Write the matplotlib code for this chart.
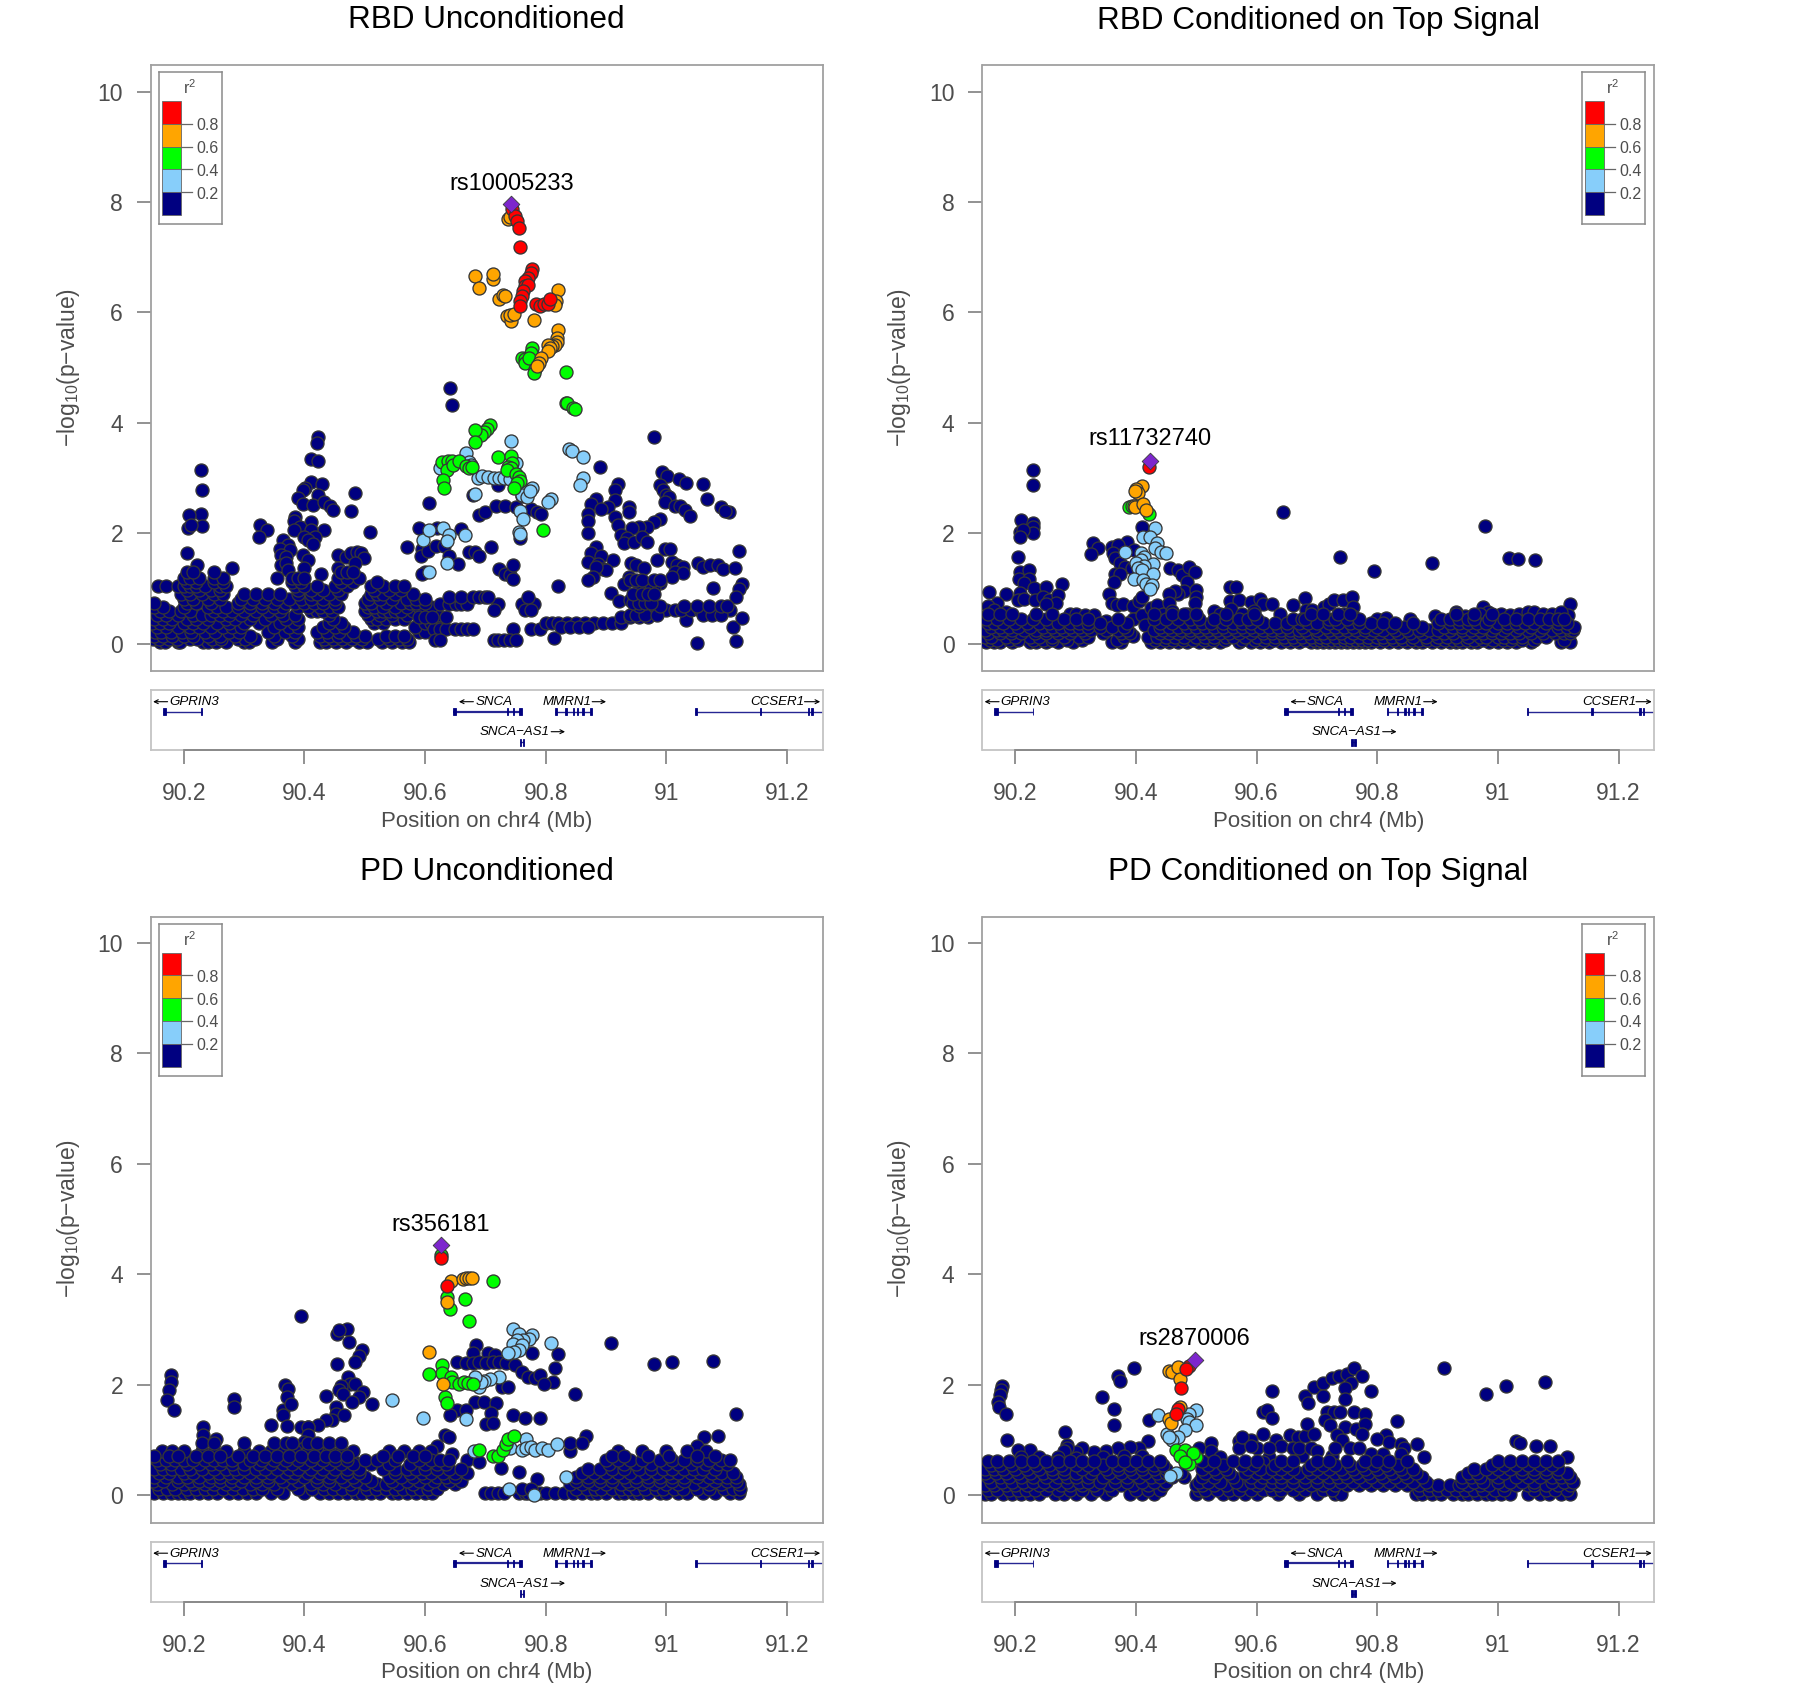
import matplotlib
matplotlib.use("Agg")
import matplotlib.pyplot as plt
from matplotlib.patches import Rectangle

plt.rcParams['font.family'] = ['Liberation Sans', 'DejaVu Sans']
plt.rcParams['mathtext.default'] = 'regular'
plt.rcParams['mathtext.fontset'] = 'custom'
plt.rcParams['mathtext.rm'] = 'Liberation Sans'

W, H = 1800, 1684
TITLES = ["RBD Unconditioned", "RBD Conditioned on Top Signal", "PD Unconditioned", "PD Conditioned on Top Signal"]
XTICKS = [90.2, 90.4, 90.6, 90.8, 91.0, 91.2]
XTICKLABELS = ["90.2", "90.4", "90.6", "90.8", "91", "91.2"]
YTICKS = [0, 2, 4, 6, 8, 10]
LEGEND_TICKS = [0.2, 0.4, 0.6, 0.8]
COLORS = {"navy": "#000080", "sky": "#87CEFA", "green": "#00FF00", "orange": "#FFA500", "red": "#FF0000", "lead": "#7D26CD"}

# ---- RBD unconditioned
u1_lead = (90.743, 7.96); u1_name = "rs10005233"; u1_label_y = 8.33
u1_red = [(90.744,7.87),(90.749,7.75),(90.752,7.66),(90.755,7.53),(90.757,7.18),(90.777,6.78),(90.775,6.72),(90.771,6.63),(90.766,6.57),(90.765,6.48),(90.771,6.49),(90.762,6.39),(90.76,6.3),(90.758,6.2),(90.757,6.11),(90.783,6.16),(90.79,6.11),(90.797,6.16),(90.804,6.15),(90.807,6.25)]
u1_orange = [(90.738,7.69),(90.741,7.72),(90.682,6.66),(90.69,6.45),(90.712,6.6),(90.713,6.69),(90.722,6.24),(90.729,6.31),(90.733,6.3),(90.735,5.93),(90.743,5.85),(90.74,5.96),(90.748,5.98),(90.781,5.86),(90.82,6.4),(90.817,6.21),(90.815,6.13),(90.82,5.69),(90.818,5.54),(90.818,5.46),(90.815,5.42),(90.811,5.39),(90.804,5.42),(90.807,5.36),(90.803,5.3),(90.792,5.18),(90.788,5.09),(90.786,5.04)]
u1_green = [(90.777,5.35),(90.775,5.26),(90.76,5.18),(90.765,5.15),(90.765,5.09),(90.773,5.18),(90.782,4.98),(90.78,4.9),(90.833,4.92),(90.834,4.37),(90.836,4.36),(90.845,4.27),(90.849,4.25),(90.707,3.96),(90.703,3.89),(90.697,3.83),(90.693,3.79),(90.682,3.87),(90.683,3.66),(90.628,3.3),(90.638,3.32),(90.645,3.31),(90.636,3.15),(90.646,3.24),(90.656,3.32),(90.667,3.23),(90.672,3.18),(90.678,3.21),(90.629,2.97),(90.632,2.83),(90.72,3.39),(90.743,3.4),(90.744,3.28),(90.738,3.21),(90.743,3.18),(90.735,3.14),(90.751,3.08),(90.756,3.03),(90.758,2.95),(90.752,2.91),(90.748,2.83),(90.796,2.07)]
u1_sky = [(90.743,3.67),(90.668,3.45),(90.673,3.3),(90.625,3.19),(90.676,3.24),(90.838,3.53),(90.843,3.49),(90.862,3.39),(90.862,3.0),(90.856,2.88),(90.809,2.63),(90.804,2.57),(90.687,3.0),(90.695,3.04),(90.705,3.02),(90.714,3.01),(90.722,3.01),(90.73,3.01),(90.74,2.98),(90.75,3.27),(90.765,2.79),(90.76,2.7),(90.769,2.66),(90.777,2.83),(90.774,2.76),(90.682,2.71),(90.757,2.4),(90.762,2.26),(90.756,2.03),(90.757,1.99),(90.597,1.88),(90.607,2.06),(90.629,2.09),(90.64,1.98),(90.636,1.87),(90.666,1.98),(90.636,1.47),(90.607,1.31)]
u1_navy = [(90.642,4.63),(90.645,4.33),(90.979,3.74),(90.422,3.75),(90.421,3.63),(90.41,3.34),(90.422,3.31),(90.41,2.94),(90.401,2.83),(90.397,2.79),(90.429,2.89),(90.422,2.69),(90.389,2.65),(90.397,2.54),(90.414,2.51),(90.433,2.57),(90.443,2.5),(90.448,2.42),(90.483,2.74),(90.477,2.41),(90.384,2.3),(90.383,2.23),(90.411,2.21),(90.393,2.12),(90.382,2.06),(90.433,2.06),(90.41,2.06),(90.4,1.94),(90.418,1.94),(90.405,1.88),(90.414,1.81),(90.364,1.88),(90.373,1.79),(90.359,1.72),(90.376,1.7),(90.361,1.61),(90.397,1.61),(90.37,1.58),(90.361,1.43),(90.405,1.52),(90.37,1.46),(90.399,1.37),(90.372,1.34),(90.427,1.27),(90.327,2.15),(90.338,2.06),(90.325,1.94),(90.509,2.03),(90.456,1.61),(90.469,1.58),(90.477,1.65),(90.487,1.67),(90.494,1.64),(90.498,1.55),(90.484,1.46),(90.456,1.37),(90.229,3.15),(90.23,2.79),(90.229,2.35),(90.23,2.13),(90.209,2.33),(90.207,2.09),(90.211,2.15),(90.205,1.64),(90.222,1.43),(90.279,1.37),
(90.89,3.2),(90.992,3.12),(91.001,3.04),(91.021,2.98),(91.033,2.92),(91.06,2.9),(91.067,2.62),(91.091,2.47),(91.103,2.39),(91.098,2.4),(90.919,2.9),(90.915,2.78),(90.883,2.63),(90.875,2.54),(90.87,2.36),(90.87,2.23),(90.915,2.6),(90.904,2.48),(90.891,2.45),(90.938,2.48),(90.938,2.39),(90.915,2.3),(90.919,2.15),(90.87,2.0),(90.989,2.88),(90.995,2.79),(91.0,2.69),(91.004,2.66),(90.997,2.57),(91.014,2.5),(91.022,2.5),(91.031,2.42),(91.039,2.32),(90.989,2.27),(90.98,2.21),(90.968,2.12),(90.955,2.12),(90.943,2.09),(90.925,1.97),(90.934,1.91),(90.93,1.82),(90.947,1.85),(90.959,1.94),(90.968,1.85),(90.997,1.72),(91.006,1.72),(90.984,1.52),(91.01,1.49),(91.018,1.43),(91.027,1.4),(91.014,1.3),(91.028,1.29),(91.01,1.21),(91.052,1.46),(91.06,1.4),(91.073,1.43),(91.086,1.43),(91.094,1.35),(91.113,1.37),(91.12,1.69),(91.125,1.09),(91.12,1.0),(91.116,0.85),(91.077,1.02),(90.989,1.11),(90.98,1.03),(90.968,0.97),(90.955,1.0),(90.942,1.46),(90.95,1.43),(90.963,1.37),(90.938,1.21),(90.93,1.09),(90.908,0.92),(90.921,0.77),(90.94,0.79),
(90.883,1.76),(90.875,1.64),(90.87,1.49),(90.891,1.6),(90.887,1.45),(90.895,1.36),(90.912,1.52),(90.9,1.33),(90.883,1.39),(90.879,1.21),(90.87,1.15),(90.82,1.05),(90.814,0.1),(91.05,0.02),(91.033,0.43),(91.11,0.3),(91.115,0.06),(91.125,0.47),
(90.59,2.1),(90.57,1.75),(90.595,1.72),(90.593,1.6),(90.605,1.68),(90.62,2.1),(90.618,1.77),(90.632,1.78),(90.66,2.08),(90.64,1.6),(90.655,1.45),(90.672,1.67),(90.682,1.67),(90.69,1.6),(90.6,1.3),(90.595,1.27),(90.606,2.55),(90.71,1.75),(90.722,1.35),(90.732,1.27),(90.74,1.25),(90.745,1.18),(90.745,1.43),(90.69,2.33),(90.7,2.38),(90.718,2.5),(90.733,2.5),(90.75,2.47),(90.76,2.67),(90.775,2.45),(90.785,2.38),(90.792,2.35),(90.72,2.88),(90.757,1.92),(90.68,2.7)]
u1_band = [(0.03,[90.16,90.168,90.19,90.194,90.232,90.24,90.253,90.27,90.3,90.308,90.346,90.384,90.425,90.435,90.452,90.469,90.49,90.503,90.528,90.545,90.562,90.574]),
(0.09,[90.148,90.158,90.175,90.188,90.21,90.222,90.247,90.262,90.29,90.302,90.318,90.355,90.39,90.432,90.448,90.462,90.478,90.495,90.522,90.54,90.557,90.57]),
(0.15,[90.15,90.165,90.18,90.2,90.215,90.24,90.26,90.285,90.31,90.35,90.38,90.425,90.44,90.455,90.47,90.485,90.5,90.535,90.55,90.565]),
(0.22,[90.152,90.162,90.178,90.197,90.212,90.235,90.252,90.275,90.292,90.34,90.368,90.385,90.42,90.438,90.458,90.48,90.59,90.6]),
(0.3,[90.155,90.17,90.19,90.21,90.225,90.245,90.265,90.28,90.295,90.35,90.375,90.39,90.43,90.45,90.465,90.583]),
(0.38,[90.147,90.16,90.175,90.2,90.215,90.232,90.255,90.275,90.3,90.325,90.36,90.382,90.44,90.46,90.515,90.53,90.6,90.61,90.62]),
(0.45,[90.15,90.165,90.18,90.205,90.22,90.24,90.27,90.285,90.31,90.335,90.37,90.39,90.448,90.51,90.52,90.535,90.55,90.565]),
(0.53,[90.155,90.17,90.19,90.215,90.23,90.245,90.26,90.275,90.295,90.315,90.345,90.365,90.385,90.44,90.505,90.525,90.545,90.57,90.605,90.62]),
(0.6,[90.16,90.175,90.195,90.21,90.25,90.265,90.28,90.3,90.32,90.34,90.36,90.41,90.42,90.43,90.445,90.5,90.52,90.53,90.54,90.55,90.56,90.58,90.595]),
(0.67,[90.15,90.165,90.2,90.24,90.255,90.27,90.29,90.31,90.33,90.35,90.365,90.39,90.405,90.425,90.44,90.455,90.505,90.515,90.53,90.55,90.57,90.59,90.61]),
(0.75,[90.15,90.205,90.22,90.245,90.29,90.31,90.33,90.35,90.37,90.385,90.4,90.415,90.43,90.45,90.5,90.51,90.535,90.56,90.575,90.585,90.6]),
(0.82,[90.2,90.215,90.24,90.26,90.295,90.315,90.335,90.355,90.375,90.395,90.41,90.43,90.45,90.505,90.525,90.545,90.57,90.585,90.6]),
(0.9,[90.195,90.21,90.23,90.25,90.265,90.3,90.32,90.34,90.36,90.39,90.41,90.42,90.44,90.46,90.51,90.52,90.53,90.55,90.58]),
(0.97,[90.205,90.225,90.245,90.26,90.39,90.41,90.43,90.455,90.515,90.54,90.56]),
(1.05,[90.157,90.17,90.19,90.2,90.21,90.22,90.235,90.26,90.27,90.385,90.4,90.42,90.45,90.47,90.51,90.53,90.55,90.565]),
(1.12,[90.205,90.22,90.25,90.265,90.38,90.395,90.46,90.48,90.52]),
(1.2,[90.2,90.21,90.225,90.25,90.265,90.355,90.38,90.39,90.4,90.455,90.47,90.49]),
(1.3,[90.205,90.215,90.25,90.46,90.47,90.48]),
(0.27,[90.615,90.625,90.635,90.65,90.66,90.67,90.68,90.745,90.775,90.79]),
(0.08,[90.617,90.625,90.714,90.72,90.73,90.74,90.75]),
(0.38,[90.8,90.81,90.82,90.835,90.85,90.865,90.88,90.895,90.91,90.925]),
(0.3,[90.825,90.84,90.855,90.87]),
(0.48,[90.59,90.6,90.612,90.635,90.925,90.94,90.955,90.97]),
(0.72,[90.625,90.64,90.652,90.66,90.67,90.72,90.76,90.78]),
(0.85,[90.64,90.66,90.68,90.69,90.7,90.705,90.77]),
(0.62,[90.96,90.97,90.985,91.0,91.015,91.025,91.04,91.055,91.065,91.075,91.085,91.095,91.105,90.715,90.765,90.775]),
(0.52,[90.94,90.95,90.965,90.985,91.06,91.075,91.09]),
(0.68,[90.955,90.99,91.03,91.05,91.07,91.09,91.1]),
(0.75,[90.945,90.955,90.965,90.975]),(0.9,[90.945,90.96,90.97,90.98]),(1.15,[90.94,90.95,90.96,90.98,90.99])]

# ---- RBD conditioned
c1_lead = (90.423, 3.32); c1_name = "rs11732740"; c1_label_y = 3.71
c1_red = [(90.422,3.21)]
c1_orange = [(90.41,2.86),(90.4,2.8),(90.403,2.74),(90.399,2.77),(90.397,2.5),(90.399,2.47),(90.412,2.53),(90.416,2.42)]
c1_green = [(90.389,2.48),(90.393,2.5),(90.422,2.35)]
c1_sky = [(90.431,2.1),(90.412,1.93),(90.423,1.94),(90.435,1.82),(90.432,1.73),(90.442,1.67),(90.45,1.65),(90.381,1.66),(90.409,1.65),(90.413,1.58),(90.408,1.52),(90.4,1.46),(90.428,1.44),(90.413,1.41),(90.404,1.37),(90.41,1.34),(90.429,1.26),(90.396,1.18),(90.412,1.15),(90.416,1.08),(90.427,1.06),(90.423,0.99)]
c1_navy = [(90.229,3.14),(90.23,2.88),(90.21,2.25),(90.229,2.19),(90.229,2.11),(90.23,2.0),(90.208,2.03),(90.212,2.06),(90.208,1.94),(90.205,1.58),(90.208,1.3),(90.223,1.33),(90.206,1.18),(90.223,1.18),(90.214,1.1),(90.278,1.08),(90.231,1.01),(90.25,1.03),(90.157,0.94),(90.185,0.9),(90.207,0.92),(90.205,0.8),(90.215,0.82),(90.232,0.8),(90.245,0.85),(90.255,0.8),(90.27,0.88),(90.268,0.75),(90.25,0.72),(90.17,0.75),(90.155,0.68),(90.165,0.62),(90.185,0.58),
(90.328,1.82),(90.337,1.73),(90.326,1.62),(90.385,1.85),(90.36,1.76),(90.37,1.79),(90.397,1.7),(90.362,1.64),(90.366,1.55),(90.374,1.46),(90.381,1.4),(90.365,1.26),(90.374,1.26),(90.364,1.12),(90.41,2.12),(90.356,0.91),(90.394,1.37),(90.457,1.37),(90.469,1.34),(90.476,1.24),(90.488,1.4),(90.497,1.31),(90.484,1.12),(90.48,0.95),(90.47,0.91),(90.465,0.95),(90.454,0.91),(90.499,0.98),(90.499,0.85),(90.498,0.74),(90.644,2.39),(90.738,1.58),(90.795,1.32),(90.89,1.47),(90.979,2.13),(91.019,1.56),(91.034,1.54),(91.061,1.52),(90.556,1.03),(90.566,1.03),(90.556,0.77),(90.57,0.79),(90.59,0.76),(90.605,0.82),(90.61,0.73),(90.625,0.73),(90.661,0.71),(90.68,0.84),(90.682,0.61),(90.691,0.61),(90.712,0.66),(90.72,0.73),(90.728,0.79),(90.743,0.79),(90.758,0.85),(90.76,0.67),(90.975,0.67),(90.984,0.58),(91.119,0.73),(91.116,0.52),
(90.36,0.75),(90.368,0.7),(90.378,0.72),(90.395,0.68),(90.405,0.78),(90.41,0.85),(90.395,0.45),(90.41,0.52),(90.415,0.35),(90.425,0.65),(90.44,0.65),(90.435,0.7),(90.445,0.55),(90.455,0.75),(90.46,0.6),(90.485,0.55),(90.53,0.6),(90.54,0.55),(90.558,0.63),(90.576,0.55),(90.595,0.6),(90.638,0.55),(90.665,0.4),(90.69,0.5),(90.7,0.45),(90.712,0.45),(90.745,0.55),(90.76,0.5),(90.765,0.45),(90.8,0.45),(90.815,0.47),(90.855,0.45),(90.895,0.5),(90.93,0.58),(90.945,0.5),(90.97,0.55),(91.005,0.55),(91.02,0.52),(91.035,0.55),(91.05,0.57),(91.06,0.57),(91.075,0.55),(91.09,0.55),(91.105,0.58),(90.29,0.55),(90.3,0.55),(90.315,0.52),(90.33,0.52),(90.35,0.42),(90.38,0.35),(90.395,0.15)]
c1_band = [(0.03,[90.152,90.165,90.175,90.195,90.225,90.235,90.25,90.27,90.295,90.36,90.375,90.425,90.44,90.455,90.47,90.485,90.505,90.52,90.54,90.57,90.59,90.605,90.62,90.64,90.655,90.67,90.69,90.7,90.71,90.72,90.73,90.74,90.75,90.76,90.77,90.78,90.79,90.805,90.82,90.835,90.85,90.865,90.875,90.89,90.905,90.92,90.93,90.94,90.955,90.965,90.985,91.0,91.015,91.03,91.055,91.105,91.12]),
(0.08,[90.158,90.17,90.19,90.205,90.23,90.245,90.26,90.285,90.31,90.368,90.432,90.448,90.462,90.478,90.495,90.512,90.528,90.548,90.575,90.597,90.612,90.628,90.648,90.663,90.68,90.695,90.705,90.715,90.725,90.735,90.745,90.755,90.765,90.775,90.785,90.797,90.812,90.828,90.842,90.857,90.87,90.882,90.897,90.912,90.925,90.935,90.948,90.96,90.975,90.992,91.008,91.022,91.04,91.06,91.11]),
(0.13,[90.15,90.16,90.185,90.2,90.225,90.24,90.26,90.28,90.305,90.32,90.38,90.42,90.435,90.45,90.465,90.48,90.5,90.515,90.53,90.55,90.56,90.58,90.6,90.615,90.63,90.645,90.66,90.675,90.69,90.705,90.715,90.73,90.745,90.755,90.77,90.785,90.8,90.81,90.825,90.84,90.86,90.88,90.9,90.915,90.93,90.95,90.97,90.98,91.0,91.01,91.025,91.04,91.065,91.08]),
(0.19,[90.155,90.175,90.192,90.21,90.232,90.25,90.27,90.29,90.315,90.345,90.375,90.39,90.44,90.455,90.47,90.49,90.51,90.525,90.54,90.555,90.57,90.59,90.61,90.625,90.64,90.655,90.67,90.685,90.7,90.71,90.725,90.74,90.76,90.775,90.79,90.805,90.82,90.835,90.855,90.875,90.895,90.91,90.925,90.945,90.96,90.975,90.99,91.005,91.02,91.035,91.055,91.075,91.095,91.11,91.12]),
(0.25,[90.15,90.17,90.18,90.195,90.215,90.235,90.25,90.265,90.28,90.295,90.31,90.325,90.35,90.37,90.385,90.43,90.445,90.46,90.475,90.49,90.505,90.52,90.535,90.55,90.565,90.58,90.595,90.61,90.625,90.64,90.655,90.67,90.68,90.7,90.72,90.735,90.75,90.765,90.78,90.795,90.81,90.83,90.85,90.87,90.885,90.9,90.92,90.94,90.955,90.97,90.99,91.01,91.03,91.05,91.07,91.09,91.105,91.12,91.125]),
(0.31,[90.16,90.175,90.19,90.205,90.225,90.245,90.26,90.275,90.29,90.305,90.32,90.34,90.36,90.38,90.44,90.455,90.47,90.485,90.5,90.515,90.53,90.545,90.56,90.575,90.59,90.605,90.62,90.635,90.65,90.675,90.695,90.715,90.73,90.745,90.76,90.78,90.8,90.825,90.845,90.875,90.91,90.925,90.94,90.96,90.975,90.995,91.015,91.035,91.055,91.075,91.1,91.115,91.127]),
(0.37,[90.155,90.165,90.18,90.2,90.22,90.24,90.255,90.27,90.29,90.305,90.32,90.34,90.385,90.44,90.46,90.48,90.495,90.51,90.525,90.545,90.56,90.575,90.59,90.61,90.63,90.65,90.67,90.685,90.7,90.72,90.735,90.755,90.77,90.79,90.81,90.83,90.86,90.9,90.92,90.935,90.95,90.965,90.98,91.0,91.015,91.03,91.045,91.06,91.08,91.1,91.115]),
(0.46,[90.152,90.17,90.19,90.21,90.23,90.25,90.28,90.3,90.32,90.37,90.43,90.45,90.47,90.49,90.505,90.53,90.55,90.57,90.585,90.6,90.66,90.675,90.68,90.72,90.73,90.75,90.77,90.905,90.92,90.935,90.95,90.96,90.985,91.01,91.03,91.05,91.07,91.085,91.1,91.11]),
(0.55,[90.155,90.175,90.195,90.235,90.26,90.43,90.46,90.48,90.5,90.55,90.595,90.69,90.71,90.735,90.755,90.93,90.96,90.99])]

# ---- PD unconditioned
u2_lead = (90.626, 4.53); u2_name = "rs356181"; u2_label_y = 4.90
u2_red = [(90.626,4.29),(90.636,3.8)]
u2_orange = [(90.643,3.88),(90.662,3.92),(90.667,3.93),(90.673,3.93),(90.677,3.93),(90.636,3.5),(90.607,2.59),(90.63,2.02)]
u2_green = [(90.626,4.35),(90.712,3.89),(90.637,3.6),(90.666,3.55),(90.641,3.37),(90.673,3.16),(90.628,2.36),(90.628,2.22),(90.606,2.2),(90.643,2.15),(90.644,2.05),(90.656,2.01),(90.665,2.05),(90.671,2.04),(90.679,2.02),(90.633,1.79),(90.636,1.67),(90.69,0.82),(90.713,0.72),(90.721,0.72),(90.729,0.82),(90.734,0.94),(90.738,1.03),(90.747,1.07)]
u2_sky = [(90.545,1.72),(90.596,1.41),(90.668,1.38),(90.745,3.02),(90.756,2.93),(90.778,2.9),(90.772,2.84),(90.763,2.81),(90.752,2.81),(90.745,2.75),(90.76,2.72),(90.755,2.63),(90.747,2.6),(90.738,2.57),(90.808,2.76),(90.723,2.14),(90.708,2.11),(90.697,2.08),(90.69,1.96),(90.693,2.05),(90.682,2.15),(90.681,0.8),(90.741,0.85),(90.767,1.03),(90.76,0.82),(90.767,0.85),(90.775,0.88),(90.782,0.82),(90.793,0.85),(90.804,0.82),(90.819,0.94),(90.834,0.34),(90.739,0.11),(90.781,0.01)]
u2_navy = [(90.395,3.25),(90.471,3.02),(90.454,2.93),(90.457,2.99),(90.474,2.77),(90.496,2.63),(90.49,2.52),(90.483,2.42),(90.454,2.38),(90.472,2.14),(90.475,2.02),(90.46,1.99),(90.483,2.02),(90.457,1.9),(90.497,1.87),(90.464,1.84),(90.49,1.78),(90.478,1.69),(90.436,1.8),(90.512,1.65),(90.453,1.6),(90.453,1.48),(90.466,1.46),(90.446,1.36),(90.435,1.36),(90.423,1.27),(90.405,1.24),(90.395,1.24),(90.344,1.27),(90.364,1.54),(90.364,1.45),(90.368,2.0),(90.372,1.92),(90.283,1.75),(90.283,1.6),(90.178,2.18),(90.178,2.06),(90.176,1.91),(90.172,1.73),(90.183,1.55),(90.231,1.24),(90.231,1.09),(90.253,1.03),(90.371,1.79),(90.377,1.65),(90.406,1.23),(90.371,1.26),(90.406,1.09),(90.399,0.97),(90.399,0.85),(90.425,0.77),(90.46,0.65),(90.482,0.6),(90.538,0.49),(90.568,0.4),(90.596,0.28),
(90.684,2.72),(90.679,2.57),(90.704,2.57),(90.716,2.54),(90.653,2.42),(90.668,2.4),(90.679,2.39),(90.69,2.42),(90.701,2.39),(90.712,2.42),(90.723,2.42),(90.734,2.39),(90.749,2.36),(90.778,2.57),(90.82,2.56),(90.76,2.24),(90.771,2.15),(90.782,2.12),(90.79,2.18),(90.815,2.3),(90.812,2.05),(90.797,2.02),(90.727,1.96),(90.738,1.96),(90.908,2.76),(90.98,2.38),(91.01,2.42),(91.078,2.44),(91.116,1.48),(90.849,1.84),(90.682,1.69),(90.697,1.69),(90.717,1.67),(90.709,1.5),(90.701,1.3),(90.712,1.31),(90.746,1.45),(90.765,1.4),(90.79,1.41),(90.653,1.54),(90.642,1.45),(90.668,1.54),(90.866,1.07),(91.062,1.06),(91.086,1.07),(91.05,0.9),
(90.633,1.1),(90.64,1.05),(90.62,0.9),(90.61,0.8),(90.645,0.75),(90.67,0.64),(90.69,0.6),(90.725,0.5),(90.755,0.42),(90.785,0.3)]
u2_band = [(0.05,[90.15,90.165,90.178,90.19,90.2,90.21,90.225,90.24,90.255,90.275,90.29,90.305,90.32,90.345,90.365,90.4,90.425,90.44,90.455,90.47,90.485,90.495,90.51,90.525,90.545,90.555,90.57,90.585,90.6,90.612,90.7,90.71,90.72,90.73,90.755,90.765,90.77,90.78,90.79,90.8,90.815,90.83,90.845,90.86,90.875,90.885,90.9,90.92,90.93,90.945,90.955,90.97,90.99,91.0,91.02,91.035,91.06,91.08,91.105,91.12]),
(0.11,[90.158,90.172,90.185,90.205,90.22,90.235,90.248,90.265,90.282,90.298,90.315,90.33,90.355,90.39,90.412,90.432,90.448,90.462,90.478,90.503,90.518,90.535,90.55,90.563,90.578,90.592,90.605,90.62,90.76,90.775,90.85,90.868,90.882,90.892,90.91,90.925,90.938,90.95,90.965,90.982,90.995,91.012,91.028,91.05,91.07,91.095,91.11,91.122]),
(0.2,[90.155,90.18,90.2,90.215,90.235,90.25,90.27,90.285,90.31,90.33,90.35,90.38,90.41,90.43,90.45,90.475,90.5,90.52,90.535,90.555,90.58,90.605,90.63,90.65,90.84,90.86,90.88,90.9,90.925,90.94,90.96,90.98,91.0,91.02,91.045,91.07,91.09,91.12]),
(0.27,[90.148,90.165,90.19,90.21,90.225,90.242,90.26,90.278,90.295,90.32,90.34,90.365,90.39,90.42,90.44,90.465,90.485,90.51,90.545,90.57,90.59,90.615,90.64,90.66,90.85,90.87,90.89,90.91,90.935,90.95,90.97,90.99,91.01,91.03,91.06,91.08,91.1,91.115]),
(0.33,[90.15,90.17,90.19,90.205,90.225,90.245,90.26,90.28,90.3,90.32,90.34,90.36,90.38,90.4,90.42,90.44,90.46,90.48,90.5,90.54,90.56,90.58,90.6,90.62,90.635,90.65,90.85,90.87,90.89,90.91,90.93,90.95,90.97,90.99,91.01,91.03,91.05,91.07,91.085,91.1,91.115]),
(0.41,[90.158,90.175,90.2,90.215,90.24,90.258,90.275,90.29,90.31,90.33,90.345,90.37,90.385,90.405,90.425,90.445,90.47,90.49,90.55,90.575,90.595,90.61,90.63,90.65,90.67,90.86,90.88,90.9,90.92,90.94,90.965,90.985,91.005,91.02,91.04,91.055,91.075,91.09,91.11]),
(0.48,[90.15,90.165,90.18,90.195,90.21,90.23,90.25,90.27,90.285,90.3,90.32,90.335,90.355,90.375,90.39,90.41,90.43,90.45,90.47,90.49,90.53,90.55,90.57,90.585,90.6,90.62,90.64,90.66,90.87,90.89,90.91,90.93,90.955,90.975,90.995,91.01,91.03,91.045,91.06,91.08]),
(0.56,[90.16,90.178,90.205,90.225,90.245,90.26,90.28,90.3,90.325,90.345,90.365,90.38,90.4,90.42,90.44,90.46,90.48,90.51,90.54,90.575,90.6,90.62,90.635,90.905,90.93,90.95,90.975,91.0,91.02,91.04,91.065,91.085,91.1]),
(0.65,[90.155,90.17,90.185,90.2,90.215,90.235,90.25,90.265,90.28,90.31,90.33,90.35,90.37,90.39,90.41,90.43,90.45,90.47,90.5,90.52,90.55,90.59,90.61,90.625,90.64,90.9,90.92,90.94,90.96,90.99,91.01,91.03,91.05,91.07,91.09,91.105]),
(0.8,[90.163,90.18,90.2,90.23,90.25,90.27,90.3,90.325,90.345,90.365,90.385,90.405,90.44,90.46,90.48,90.54,90.565,90.59,90.84,90.92,90.96,91.0,91.035,91.065]),
(0.72,[90.15,90.175,90.19,90.22,90.24,90.26,90.29,90.315,90.335,90.355,90.375,90.395,90.415,90.435,90.45,90.47,90.53,90.555,90.58,90.6,90.91,90.93,90.97,91.005,91.05,91.08]),
(0.95,[90.23,90.25,90.3,90.35,90.37,90.38,90.405,90.42,90.44,90.46,90.84,90.86])]

# ---- PD conditioned
c2_lead = (90.497, 2.46); c2_name = "rs2870006"; c2_label_y = 2.84
c2_red = [(90.488,2.34),(90.483,2.28),(90.474,1.95),(90.47,1.56),(90.466,1.48)]
c2_orange = [(90.455,2.25),(90.46,2.24),(90.47,2.33),(90.473,2.1),(90.473,1.6),(90.455,1.39),(90.458,1.32)]
c2_sky = [(90.499,1.55),(90.436,1.45),(90.488,1.48),(90.484,1.39),(90.488,1.33),(90.499,1.28),(90.481,1.18),(90.451,1.11),(90.47,1.06),(90.459,1.0),(90.455,1.06),(90.466,0.4),(90.457,0.36)]
c2_green = [(90.466,0.82),(90.481,0.82),(90.499,0.69),(90.488,0.57),(90.494,0.76),(90.473,0.72),(90.481,0.6)]
c2_navy = [(90.396,2.3),(90.37,2.16),(90.373,2.08),(90.344,1.78),(90.364,1.56),(90.363,1.27),(90.422,1.37),(90.178,1.98),(90.177,1.91),(90.175,1.82),(90.171,1.69),(90.173,1.6),(90.184,1.48),(90.186,1.0),(90.282,1.15),(90.626,1.89),(90.61,1.51),(90.618,1.54),(90.625,1.41),(90.61,1.12),(90.632,1.0),(90.64,0.9),(90.655,1.09),(90.669,1.06),(90.68,1.07),(90.68,1.8),(90.695,1.97),(90.71,2.04),(90.725,2.13),(90.736,2.16),(90.75,2.2),(90.761,2.3),(90.775,2.17),(90.757,2.03),(90.746,1.94),(90.71,1.8),(90.685,1.67),(90.746,1.75),(90.79,1.89),(90.833,1.35),(90.91,2.31),(90.981,1.84),(91.013,1.98),(91.078,2.05),(90.717,1.51),(90.728,1.51),(90.739,1.51),(90.761,1.51),(90.78,1.48),(90.713,1.36),(90.721,1.27),(90.684,1.3),(90.695,1.12),(90.746,1.24),(90.765,1.21),(90.78,1.3),(90.733,1.09),(90.741,1.0),(90.775,1.12),(90.815,1.09),(90.8,1.03),(90.82,0.97),(90.84,0.94),(90.866,0.94),(90.877,0.69),(90.844,0.85),(91.03,0.98),(91.037,0.95),(91.064,0.9),(91.086,0.9),(91.115,0.7),
(90.42,0.98),(90.405,0.85),(90.39,0.88),(90.37,0.85),(90.35,0.8),(90.33,0.78),(90.31,0.85),(90.3,0.78),(90.285,0.92),(90.285,0.85),(90.28,0.8),(90.225,0.82),(90.205,0.82),(90.21,0.7),(90.24,0.7),(90.27,0.7),(90.3,0.68),(90.345,0.7),(90.38,0.72),(90.41,0.72),(90.505,0.85),(90.525,0.95),(90.59,1.0),(90.57,0.98),(90.525,0.8),(90.54,0.7),(90.57,0.85),(90.6,0.85),(90.575,1.05),(90.59,0.9),(90.62,0.7),(90.61,0.6),(90.62,0.85),(90.66,0.85),(90.675,0.72),(90.67,0.85),(90.69,0.85),(90.7,0.8),(90.725,0.72),(90.73,0.85),(90.755,0.85),(90.77,0.85),(90.79,0.75),(90.81,0.75),(90.84,0.75)]
c2_band = [(0.03,[90.15,90.16,90.18,90.195,90.21,90.225,90.24,90.265,90.28,90.3,90.325,90.35,90.39,90.41,90.43,90.5,90.52,90.545,90.56,90.58,90.6,90.635,90.67,90.7,90.73,90.74,90.865,90.875,90.89,90.905,90.925,90.94,90.95,90.965,90.98,90.99,91.005,91.02,91.05,91.07,91.085,91.105,91.12]),
(0.1,[90.155,90.17,90.19,90.205,90.218,90.232,90.25,90.27,90.29,90.31,90.335,90.36,90.4,90.42,90.44,90.505,90.515,90.535,90.555,90.57,90.59,90.61,90.625,90.64,90.66,90.68,90.71,90.725,90.87,90.885,90.9,90.915,90.93,90.945,90.96,90.975,90.995,91.01,91.06,91.08,91.095,91.115]),
(0.18,[90.15,90.165,90.185,90.2,90.22,90.24,90.255,90.275,90.29,90.31,90.33,90.355,90.375,90.395,90.42,90.445,90.5,90.51,90.53,90.55,90.575,90.6,90.62,90.635,90.65,90.67,90.69,90.71,90.73,90.75,90.77,90.79,90.81,90.83,90.85,90.87,90.885,90.9,90.92,90.935,90.95,90.97,90.985,91.01,91.03,91.05,91.06,91.08,91.1,91.12]),
(0.25,[90.16,90.178,90.195,90.212,90.23,90.248,90.265,90.285,90.305,90.32,90.34,90.365,90.385,90.41,90.43,90.45,90.505,90.52,90.54,90.565,90.59,90.605,90.625,90.64,90.66,90.68,90.7,90.72,90.74,90.76,90.78,90.8,90.82,90.84,90.86,90.88,90.94,90.96,90.975,91.0,91.02,91.04,91.06,91.09,91.11,91.125]),
(0.33,[90.155,90.175,90.19,90.21,90.23,90.25,90.27,90.285,90.3,90.32,90.345,90.365,90.385,90.405,90.425,90.44,90.46,90.48,90.51,90.53,90.56,90.59,90.61,90.625,90.64,90.66,90.68,90.7,90.72,90.735,90.75,90.77,90.79,90.81,90.83,90.85,90.875,90.94,90.955,90.97,91.0,91.03,91.05,91.07,91.09,91.105,91.12]),
(0.4,[90.15,90.168,90.185,90.205,90.225,90.245,90.262,90.28,90.3,90.325,90.355,90.375,90.395,90.415,90.435,90.45,90.475,90.515,90.535,90.555,90.58,90.6,90.615,90.635,90.65,90.67,90.69,90.71,90.73,90.745,90.765,90.785,90.805,90.825,90.845,90.865,90.95,90.965,90.99,91.01,91.04,91.06,91.08,91.1,91.115]),
(0.48,[90.15,90.165,90.18,90.2,90.22,90.24,90.26,90.28,90.31,90.33,90.35,90.37,90.39,90.41,90.43,90.45,90.51,90.53,90.55,90.585,90.605,90.625,90.64,90.66,90.685,90.7,90.72,90.74,90.76,90.78,90.8,90.82,90.84,90.86,90.96,90.98,91.0,91.02,91.04,91.06,91.08,91.1]),
(0.55,[90.16,90.175,90.195,90.215,90.235,90.255,90.275,90.3,90.32,90.345,90.37,90.39,90.41,90.43,90.445,90.52,90.545,90.575,90.595,90.63,90.65,90.69,90.71,90.73,90.755,90.775,90.795,90.815,90.835,90.99,91.01,91.03,91.05,91.07,91.09]),
(0.62,[90.155,90.17,90.19,90.21,90.23,90.25,90.27,90.29,90.31,90.33,90.36,90.38,90.4,90.42,90.44,90.51,90.53,90.56,90.58,90.6,90.64,90.66,90.7,90.72,90.75,90.78,90.8,90.82,90.85,91.0,91.02,91.04,91.06,91.08,91.1])]

PANELS = [
    (u1_lead,u1_name,u1_label_y,u1_navy,u1_band,u1_sky,u1_green,u1_orange,u1_red),
    (c1_lead,c1_name,c1_label_y,c1_navy,c1_band,c1_sky,c1_green,c1_orange,c1_red),
    (u2_lead,u2_name,u2_label_y,u2_navy,u2_band,u2_sky,u2_green,u2_orange,u2_red),
    (c2_lead,c2_name,c2_label_y,c2_navy,c2_band,c2_sky,c2_green,c2_orange,c2_red),
]
# name, text centre, row, gene start, gene end, exons, line width, arrow tail, arrow head
GENES = [
    ("GPRIN3", 90.217, 0, 90.165, 90.23, [(90.165,90.171),(90.229,90.23)], 1.0, 90.173, 90.149),
    ("SNCA", 90.714, 0, 90.646, 90.76, [(90.646,90.652),(90.735,90.737),(90.745,90.747),(90.755,90.76)], 1.6, 90.68, 90.656),
    ("MMRN1", 90.835, 0, 90.816, 90.875, [(90.816,90.818),(90.832,90.835),(90.845,90.847),(90.851,90.853),(90.86,90.863),(90.873,90.876)], 1.0, 90.877, 90.9),
    ("CCSER1", 91.184, 0, 91.048, 91.27, [(91.048,91.05),(91.155,91.157),(91.234,91.237),(91.24,91.243)], 1.0, 91.229, 91.255),
    ("SNCA\u2212AS1", 90.749, 1, 90.757, 90.764, [(90.757,90.759),(90.762,90.764)], 1.0, 90.809, 90.832),
]

GRAY = "#4d4d4d"; FRAME = "#a0a0a0"
XLIM = (90.1455, 91.259)
YLIM = (-0.49, 10.48)
PT = 72 / 100

def axpx(l, t, r, b, **kw):
    return fig.add_axes([l / W, 1 - b / H, (r - l) / W, (b - t) / H], **kw)

fig = plt.figure(figsize=(W / 100, H / 100), dpi=100, facecolor="white")
OFFS = [(0, 0), (831.5, 0), (0, 851.5), (831.5, 851.5)]
LEG_LEFT = [159, 1582, 159, 1582]

for k, ((dx, dy), p) in enumerate(zip(OFFS, PANELS)):
    lead, name, laby, navy, band, sky, green, orange, red = p
    L, R = 151 + dx, 822.6 + dx
    ax = axpx(L, 65 + dy, R, 671 + dy)
    ax.set_xlim(XLIM); ax.set_ylim(YLIM)
    pts = list(navy)
    for y, xs in band:
        pts += [(x, y) for x in xs]
    layers = [(pts, "navy"), (sky, "sky"), (green, "green"), (orange, "orange"), (red, "red")]
    for z, (vals, c) in enumerate(layers):
        ax.scatter([v[0] for v in vals], [v[1] for v in vals], s=88, c=COLORS[c], edgecolors="#363636",
                   linewidths=0.95, zorder=3 + z, clip_on=True)
    ax.scatter([lead[0]], [lead[1]], s=72, marker="D", c=COLORS["lead"], edgecolors="#3a3a3a", linewidths=0.6, zorder=9)
    ax.text(lead[0], laby, name, ha="center", va="center", fontsize=17, color="black", zorder=10)
    ax.set_xticks([])
    ax.set_yticks(YTICKS)
    ax.set_yticklabels([str(v) for v in YTICKS])
    ax.tick_params(axis="y", length=14 * PT, width=1.2, color="#7f7f7f", labelsize=16.5, labelcolor=GRAY, pad=10)
    for s in ax.spines.values():
        s.set_color(FRAME); s.set_linewidth(1.3)
    fig.text((L + R) / 2 / W, 1 - (20.5 + dy) / H, TITLES[k], ha="center", va="center", fontsize=22.7, color="black")
    fig.text((68 + dx) / W, 1 - (367 + dy) / H, "\u2212log$_{10}$(p\u2212value)", rotation=90,
             ha="center", va="center", fontsize=16.5, color=GRAY)

    # gene track
    g = axpx(L, 690 + dy, R, 750 + dy)
    g.set_xlim(XLIM); g.set_ylim(60, 0)
    for gname, cx, row, a, b, exons, lw, tail, head in GENES:
        yy = 21.7 if row == 0 else 52
        ty = 12.2 if row == 0 else 42.2
        g.plot([a, b], [yy, yy], color="#000080", lw=lw, alpha=0.85, solid_capstyle="butt", clip_on=True)
        for e0, e1 in exons:
            g.add_patch(Rectangle((e0, yy - 3.5), e1 - e0, 7, color="#000080", lw=0.6))
        g.text(cx, ty, gname, ha="center", va="center", fontsize=9.6, style="italic", color="black")
        g.annotate("", xy=(head, ty - 0.5), xytext=(tail, ty - 0.5),
                   arrowprops=dict(arrowstyle="->", lw=0.8, color="black", mutation_scale=7, shrinkA=0, shrinkB=0))
    g.set_yticks([])
    g.set_xticks(XTICKS)
    g.set_xticklabels(XTICKLABELS)
    g.tick_params(axis="x", length=14 * PT, width=1.2, color="#7f7f7f", labelsize=16.5, labelcolor=GRAY, pad=13)
    for n, s in g.spines.items():
        s.set_color("#c4c4c4"); s.set_linewidth(1.3)
    g.plot(XTICKS[:1] + XTICKS[-1:], [60, 60], color="#7f7f7f", lw=1.2, clip_on=False, zorder=5)
    fig.text((L + R) / 2 / W, 1 - (821 + dy) / H, "Position on chr4 (Mb)", ha="center", va="center",
             fontsize=16, color=GRAY)

    # r2 legend
    lx = LEG_LEFT[k]
    lg = axpx(lx, 72 + dy, lx + 63, 224 + dy)
    lg.set_xlim(159, 222); lg.set_ylim(224, 72)
    lg.set_xticks([]); lg.set_yticks([])
    for s in lg.spines.values():
        s.set_color("#8a8a8a"); s.set_linewidth(1.1)
    bar_cols = ["red", "orange", "green", "sky", "navy"]
    for i, c in enumerate(bar_cols):
        lg.add_patch(Rectangle((162.4, 101 + i * 22.8), 18.6, 22.8, facecolor=COLORS[c], edgecolor="#666666", lw=0.6))
    for i, v in enumerate(LEGEND_TICKS[::-1]):
        yy = 101 + (i + 1) * 22.8
        lg.plot([181, 191.5], [yy, yy], color="#666666", lw=0.9)
        lg.text(196, yy + 2, f"{v:.1f}", ha="left", va="center", fontsize=11.5, color=GRAY)
    lg.text(190, 88, "r$^2$", ha="center", va="center", fontsize=11.5, color=GRAY)

fig.savefig("out.png", dpi=100, facecolor="white")
